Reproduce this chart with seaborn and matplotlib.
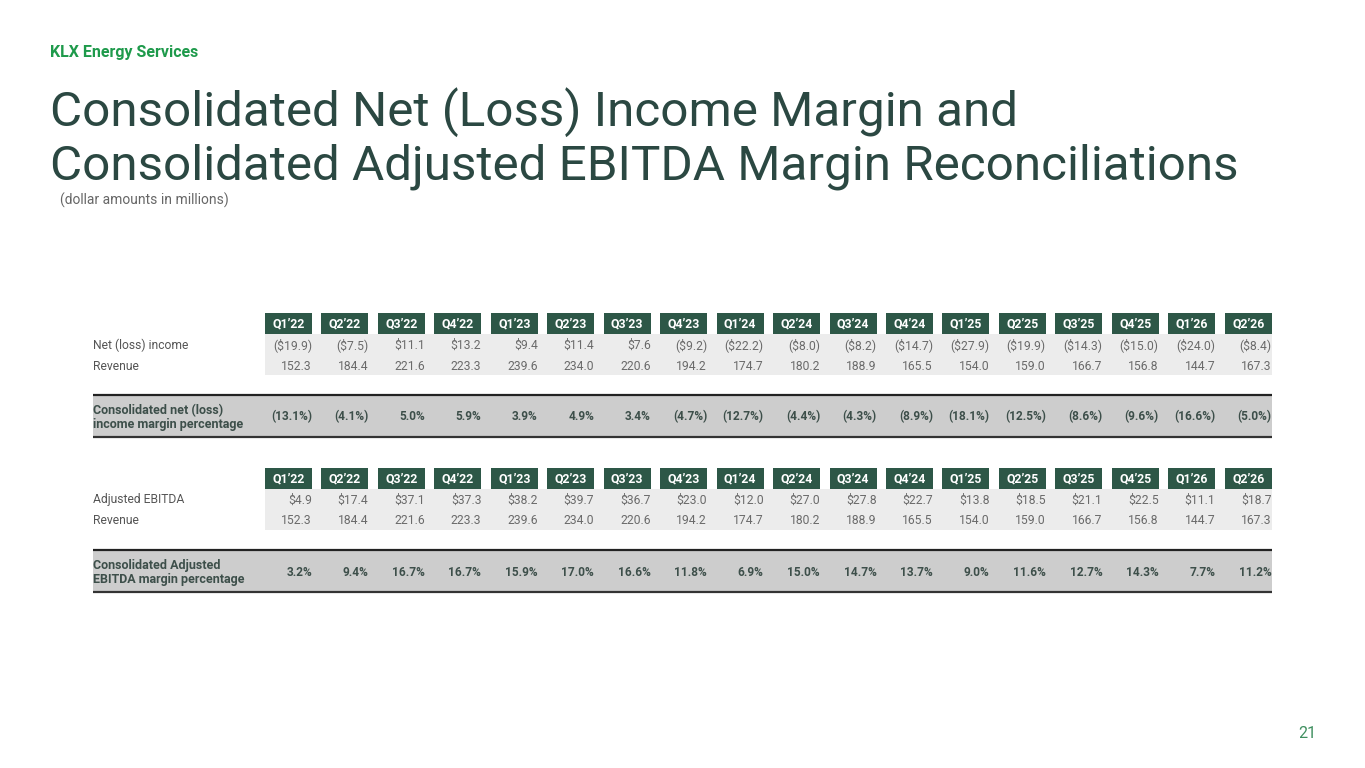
import matplotlib
matplotlib.use("Agg")
import matplotlib.pyplot as plt
from matplotlib.patches import Rectangle
import seaborn as sns

# Data
quarters = ["Q1’22", "Q2’22", "Q3’22", "Q4’22", "Q1’23", "Q2’23", "Q3’23", "Q4’23", "Q1’24",
            "Q2’24", "Q3’24", "Q4’24", "Q1’25", "Q2’25", "Q3’25", "Q4’25", "Q1’26", "Q2’26"]
net_income = [-19.9, -7.5, 11.1, 13.2, 9.4, 11.4, 7.6, -9.2, -22.2,
              -8.0, -8.2, -14.7, -27.9, -19.9, -14.3, -15.0, -24.0, -8.4]
revenue = [152.3, 184.4, 221.6, 223.3, 239.6, 234.0, 220.6, 194.2, 174.7,
           180.2, 188.9, 165.5, 154.0, 159.0, 166.7, 156.8, 144.7, 167.3]
net_margin = [-13.1, -4.1, 5.0, 5.9, 3.9, 4.9, 3.4, -4.7, -12.7,
              -4.4, -4.3, -8.9, -18.1, -12.5, -8.6, -9.6, -16.6, -5.0]
adj_ebitda = [4.9, 17.4, 37.1, 37.3, 38.2, 39.7, 36.7, 23.0, 12.0,
              27.0, 27.8, 22.7, 13.8, 18.5, 21.1, 22.5, 11.1, 18.7]
ebitda_margin = [3.2, 9.4, 16.7, 16.7, 15.9, 17.0, 16.6, 11.8, 6.9,
                 15.0, 14.7, 13.7, 9.0, 11.6, 12.7, 14.3, 7.7, 11.2]


def fmt_dollar(v):
    return f"(${-v:.1f})" if v < 0 else f"${v:.1f}"


def fmt_pct(v):
    return f"({-v:.1f}%)" if v < 0 else f"{v:.1f}%"


sns.set_theme(style="white")
plt.rcParams['font.family'] = ['Roboto', 'DejaVu Sans']

HEADER_GREEN = "#2d5747"
TITLE_COLOR = "#2b4842"
LABEL_COLOR = "#555555"
VALUE_COLOR = "#6a6a6a"
BOLD_COLOR = "#3d4f4a"

fig = plt.figure(figsize=(13.65, 7.68), dpi=100)
ax = fig.add_axes([0, 0, 1, 1])
ax.set_xlim(0, 1365)
ax.set_ylim(768, 0)
ax.axis("off")

# Header texts
ax.text(50, 52, "KLX Energy Services", color="#1e9a4b", fontsize=11.5,
        fontweight="bold", va="center", ha="left")

t1 = ax.text(50, 126, "Consolidated Net (Loss) Income Margin and", color=TITLE_COLOR,
             fontsize=36, va="baseline", ha="left")
t2 = ax.text(50, 179, "Consolidated Adjusted EBITDA Margin Reconciliations", color=TITLE_COLOR,
             fontsize=36, va="baseline", ha="left")
fig.canvas.draw()
w = t2.get_window_extent().width
size = 36 * 1192 / w
t1.set_fontsize(size)
t2.set_fontsize(size)

ax.text(60, 200, "(dollar amounts in millions)", color="#666666", fontsize=10,
        va="center", ha="left")
ax.text(1316, 733, "21", color="#3f8f5f", fontsize=11.5, va="center", ha="right")

# Table geometry
x0, dx, box_w = 288.5, 56.45, 47
col_x = [x0 + i * dx for i in range(len(quarters))]
left, right = 93, col_x[-1] + box_w / 2


def draw_table(top, label1, vals1, label2, vals2, margin_label, margins, fmt1):
    # header boxes
    for x, q in zip(col_x, quarters):
        ax.add_patch(Rectangle((x - box_w / 2, top), box_w, 21, color=HEADER_GREEN, lw=0))
        ax.text(x, top + 10.5, q, color="white", fontsize=8.8, fontweight="bold",
                ha="center", va="center")
    # light gray data band
    ax.add_patch(Rectangle((col_x[0] - box_w / 2, top + 21), right - (col_x[0] - box_w / 2), 41,
                           color="#ececec", lw=0))
    y1, y2 = top + 32, top + 53
    ax.text(left, y1, label1, color=LABEL_COLOR, fontsize=8.7, va="center", ha="left")
    ax.text(left, y2, label2, color=LABEL_COLOR, fontsize=8.7, va="center", ha="left")
    for x, a, b in zip(col_x, vals1, vals2):
        ax.text(x + box_w / 2, y1, fmt1(a), color=VALUE_COLOR, fontsize=8.7, va="center", ha="right")
        ax.text(x + box_w / 2, y2, f"{b:.1f}", color=VALUE_COLOR, fontsize=8.7, va="center", ha="right")
    # margin row
    mt, mb = top + 82, top + 124
    ax.add_patch(Rectangle((left, mt), right - left, mb - mt, color="#cdcdcd", lw=0))
    ax.plot([left, right], [mt, mt], color="#222222", lw=1.6, solid_capstyle="butt")
    ax.plot([left, right], [mb, mb], color="#333333", lw=1.6, solid_capstyle="butt")
    ax.text(left, (mt + mb) / 2 + 1.5, margin_label, color=BOLD_COLOR, fontsize=9.0,
            fontweight="bold", va="center", ha="left", linespacing=1.15)
    for x, m in zip(col_x, margins):
        ax.text(x + box_w / 2, (mt + mb) / 2 + 1, fmt_pct(m), color=BOLD_COLOR, fontsize=8.6,
                fontweight="bold", va="center", ha="right")


draw_table(313, "Net (loss) income", net_income, "Revenue", revenue,
           "Consolidated net (loss)\nincome margin percentage", net_margin, fmt_dollar)
draw_table(468, "Adjusted EBITDA", adj_ebitda, "Revenue", revenue,
           "Consolidated Adjusted\nEBITDA margin percentage", ebitda_margin, fmt_dollar)

fig.savefig("out.png", dpi=100, facecolor="white")
